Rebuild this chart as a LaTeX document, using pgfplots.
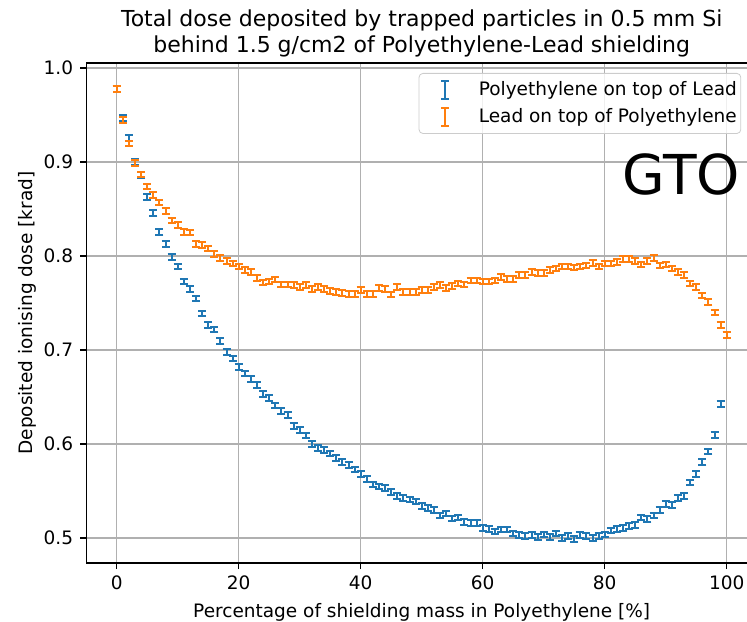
\documentclass[border=0pt]{standalone}
\usepackage{pgfplots}
\pgfplotsset{compat=1.18}
\usepackage{pgfplotstable}
\usepackage{fontspec}
\setmainfont{DejaVu Sans}
\definecolor{tabblue}{HTML}{1F77B4}
\definecolor{taborange}{HTML}{FF7F0E}
\definecolor{gridc}{HTML}{B0B0B0}

\pgfplotstableread{
x y
0 0.978
1 0.947
2 0.926
3 0.900
4 0.886
5 0.863
6 0.846
7 0.826
8 0.813
9 0.799
10 0.789
11 0.773
12 0.765
13 0.755
14 0.739
15 0.727
16 0.722
17 0.710
18 0.698
19 0.691
20 0.682
21 0.675
22 0.669
23 0.663
24 0.653
25 0.649
26 0.641
27 0.635
28 0.631
29 0.619
30 0.615
31 0.609
32 0.600
33 0.596
34 0.594
35 0.590
36 0.585
37 0.581
38 0.578
39 0.573
40 0.568
41 0.563
42 0.557
43 0.555
44 0.553
45 0.549
46 0.545
47 0.543
48 0.541
49 0.539
50 0.534
51 0.532
52 0.530
53 0.524
54 0.526
55 0.521
56 0.522
57 0.517
58 0.516
59 0.516
60 0.511
61 0.510
62 0.507
63 0.509
64 0.509
65 0.505
66 0.503
67 0.502
68 0.503
69 0.501
70 0.504
71 0.501
72 0.505
73 0.500
74 0.502
75 0.499
76 0.503
77 0.502
78 0.500
79 0.502
80 0.504
81 0.508
82 0.510
83 0.511
84 0.513
85 0.514
86 0.522
87 0.520
88 0.524
89 0.530
90 0.536
91 0.535
92 0.543
93 0.545
94 0.559
95 0.568
96 0.581
97 0.592
98 0.610
99 0.643
100 0.716
}\pbdata

\pgfplotstableread{
x y
0 0.978
1 0.945
2 0.920
3 0.899
4 0.887
5 0.874
6 0.865
7 0.857
8 0.848
9 0.838
10 0.833
11 0.826
12 0.825
13 0.813
14 0.812
15 0.808
16 0.802
17 0.798
18 0.795
19 0.792
20 0.789
21 0.785
22 0.783
23 0.777
24 0.772
25 0.773
26 0.775
27 0.770
28 0.770
29 0.769
30 0.767
31 0.769
32 0.765
33 0.767
34 0.765
35 0.763
36 0.762
37 0.761
38 0.760
39 0.760
40 0.764
41 0.760
42 0.760
43 0.766
44 0.765
45 0.759
46 0.767
47 0.762
48 0.762
49 0.762
50 0.764
51 0.764
52 0.767
53 0.769
54 0.766
55 0.768
56 0.771
57 0.770
58 0.774
59 0.774
60 0.773
61 0.773
62 0.774
63 0.778
64 0.776
65 0.776
66 0.780
67 0.780
68 0.783
69 0.782
70 0.782
71 0.785
72 0.787
73 0.789
74 0.789
75 0.788
76 0.789
77 0.790
78 0.793
79 0.789
80 0.792
81 0.792
82 0.794
83 0.797
84 0.797
85 0.795
86 0.791
87 0.795
88 0.798
89 0.790
90 0.791
91 0.787
92 0.783
93 0.780
94 0.771
95 0.767
96 0.758
97 0.751
98 0.740
99 0.727
100 0.716
}\lpdata

\begin{document}
\begin{tikzpicture}
\begin{axis}[
  at={(43.1pt,29pt)}, anchor=south west,
  scale only axis, width=335.5pt, height=250pt,
  xmin=-5, xmax=105, ymin=0.4735, ymax=1.0055,
  xtick={0,20,40,60,80,100},
  ytick={0.5,0.6,0.7,0.8,0.9,1.0},
  tick pos=left, tick align=outside, major tick length=3pt,
  every tick/.style={black, line width=0.7pt},
  axis line style={black, line width=0.7pt},
  grid=major, grid style={gridc, line width=0.7pt},
  /pgf/number format/assume math mode=true,
  tick label style={font=\fontsize{9.25}{11}\selectfont},
  yticklabel style={/pgf/number format/.cd, fixed, fixed zerofill, precision=1},
  xlabel={Percentage of shielding mass in Polyethylene [\%]},
  ylabel={Deposited ionising dose [krad]},
  label style={font=\fontsize{9.25}{11}\selectfont},
  ylabel style={yshift=-3pt},
  title={Total dose deposited by trapped particles in 0.5 mm Si\\behind 1.5 g/cm2 of Polyethylene-Lead shielding},
  title style={align=center, font=\fontsize{11}{13}\selectfont, yshift=-6.5pt},
  legend style={at={(rel axis cs:1,1)}, anchor=north east, xshift=-8pt, yshift=-5pt,
    draw=black!20, rounded corners=2pt, fill=white, fill opacity=0.8, text opacity=1,
    font=\fontsize{9.25}{11}\selectfont, row sep=1pt, inner xsep=0pt},
  legend cell align=left,
]
\addplot[tabblue, only marks, mark=*, mark size=0pt, forget plot,
  error bars/.cd, y dir=both, y fixed=0.003,
  error bar style={tabblue, line width=1pt},
  error mark options={tabblue, rotate=90, mark size=2pt, line width=1pt}]
  table[x=x, y=y] {\pbdata};
\addplot[taborange, only marks, mark=*, mark size=0pt, forget plot,
  error bars/.cd, y dir=both, y fixed=0.003,
  error bar style={taborange, line width=1pt},
  error mark options={taborange, rotate=90, mark size=2pt, line width=1pt}]
  table[x=x, y=y] {\lpdata};
\addlegendimage{legend image code/.code={\path (0pt,0pt) (27.5pt,0pt); \draw[tabblue, line width=1pt] (13pt,-4.5pt)--(13pt,4.5pt) (11pt,-4.5pt)--(15pt,-4.5pt) (11pt,4.5pt)--(15pt,4.5pt);}}
\addlegendentry{Polyethylene on top of Lead}
\addlegendimage{legend image code/.code={\path (0pt,0pt) (27.5pt,0pt); \draw[taborange, line width=1pt] (13pt,-4.5pt)--(13pt,4.5pt) (11pt,-4.5pt)--(15pt,-4.5pt) (11pt,4.5pt)--(15pt,4.5pt);}}
\addlegendentry{Lead on top of Polyethylene}
\end{axis}
\node[anchor=base west, inner sep=0pt, font=\fontsize{27.5}{32}\selectfont] at (311pt,213pt) {GTO};
\pgfresetboundingbox
\path[use as bounding box] (0,0) rectangle (373.5pt,310.5pt);
\end{tikzpicture}
\end{document}
